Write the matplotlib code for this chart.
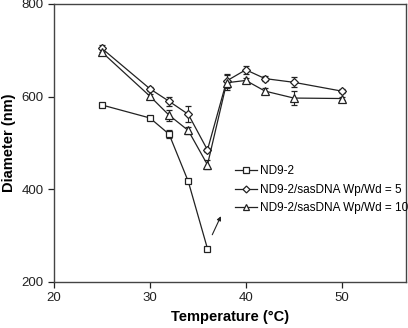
import matplotlib
matplotlib.use("Agg")
import matplotlib.pyplot as plt

plt.rcParams['font.family'] = ['Liberation Sans', 'DejaVu Sans']

x_nd = [25, 30, 32, 34, 36]
y_nd = [582, 554, 519, 417, 272]
e_nd = [3, 5, 8, 3, 3]

x_5 = [25, 30, 32, 34, 36, 38, 40, 42, 45, 50]
y_5 = [704, 617, 590, 562, 485, 634, 658, 639, 631, 612]
e_5 = [8, 4, 10, 17, 5, 15, 8, 5, 11, 5]

x_10 = [25, 30, 32, 34, 36, 38, 40, 42, 45, 50]
y_10 = [696, 601, 560, 527, 453, 630, 635, 612, 597, 596]
e_10 = [6, 4, 12, 8, 10, 16, 5, 6, 15, 4]

labels = ['ND9-2', 'ND9-2/sasDNA Wp/Wd = 5', 'ND9-2/sasDNA Wp/Wd = 10']

fig = plt.figure(figsize=(4.08, 3.28), dpi=100)
ax = fig.add_axes([54/408, 1-282/328, 352/408, 278/328])

common = dict(color='#222222', lw=0.9, mfc='white', mec='#222222', mew=0.9,
              capsize=2.5, elinewidth=0.8, capthick=0.8)
ax.errorbar(x_nd, y_nd, yerr=e_nd, marker='s', ms=5, label=labels[0], **common)
ax.errorbar(x_5, y_5, yerr=e_5, marker='D', ms=4.5, label=labels[1], **common)
ax.errorbar(x_10, y_10, yerr=e_10, marker='^', ms=5.5, label=labels[2], **common)

ax.annotate('', xy=(37.4, 342), xytext=(36.5, 302),
            arrowprops=dict(arrowstyle='-|>', color='#222222', lw=0.8,
                            mutation_scale=6, shrinkA=0, shrinkB=0))

ax.set_xlim(20, 56.7)
ax.set_ylim(200, 800)
ax.set_xticks([20, 30, 40, 50])
ax.set_yticks([200, 400, 600, 800])
ax.tick_params(direction='out', length=4, width=0.9, labelsize=9.5, colors='#222222',
               top=False, right=False)
for s in ax.spines.values():
    s.set_color('#444444')
    s.set_linewidth(1.0)

ax.set_xlabel('Temperature (°C)', fontsize=10.5, fontweight='bold', labelpad=4)
ax.set_ylabel('Diameter (nm)', fontsize=10.5, fontweight='bold', labelpad=4)

from matplotlib.lines import Line2D
handles = [Line2D([], [], color='#222222', lw=0.9, marker=m, ms=s, mfc='white',
                  mec='#222222', mew=0.9)
           for m, s in [('s', 4.5), ('D', 3.5), ('^', 5)]]
ax.legend(handles, labels, loc='upper left', bbox_to_anchor=(0.515, 0.42),
          frameon=False, fontsize=8.5, handlelength=1.8, handletextpad=0.3,
          labelspacing=0.55, borderaxespad=0, borderpad=0)

fig.savefig('out.png', dpi=100)
